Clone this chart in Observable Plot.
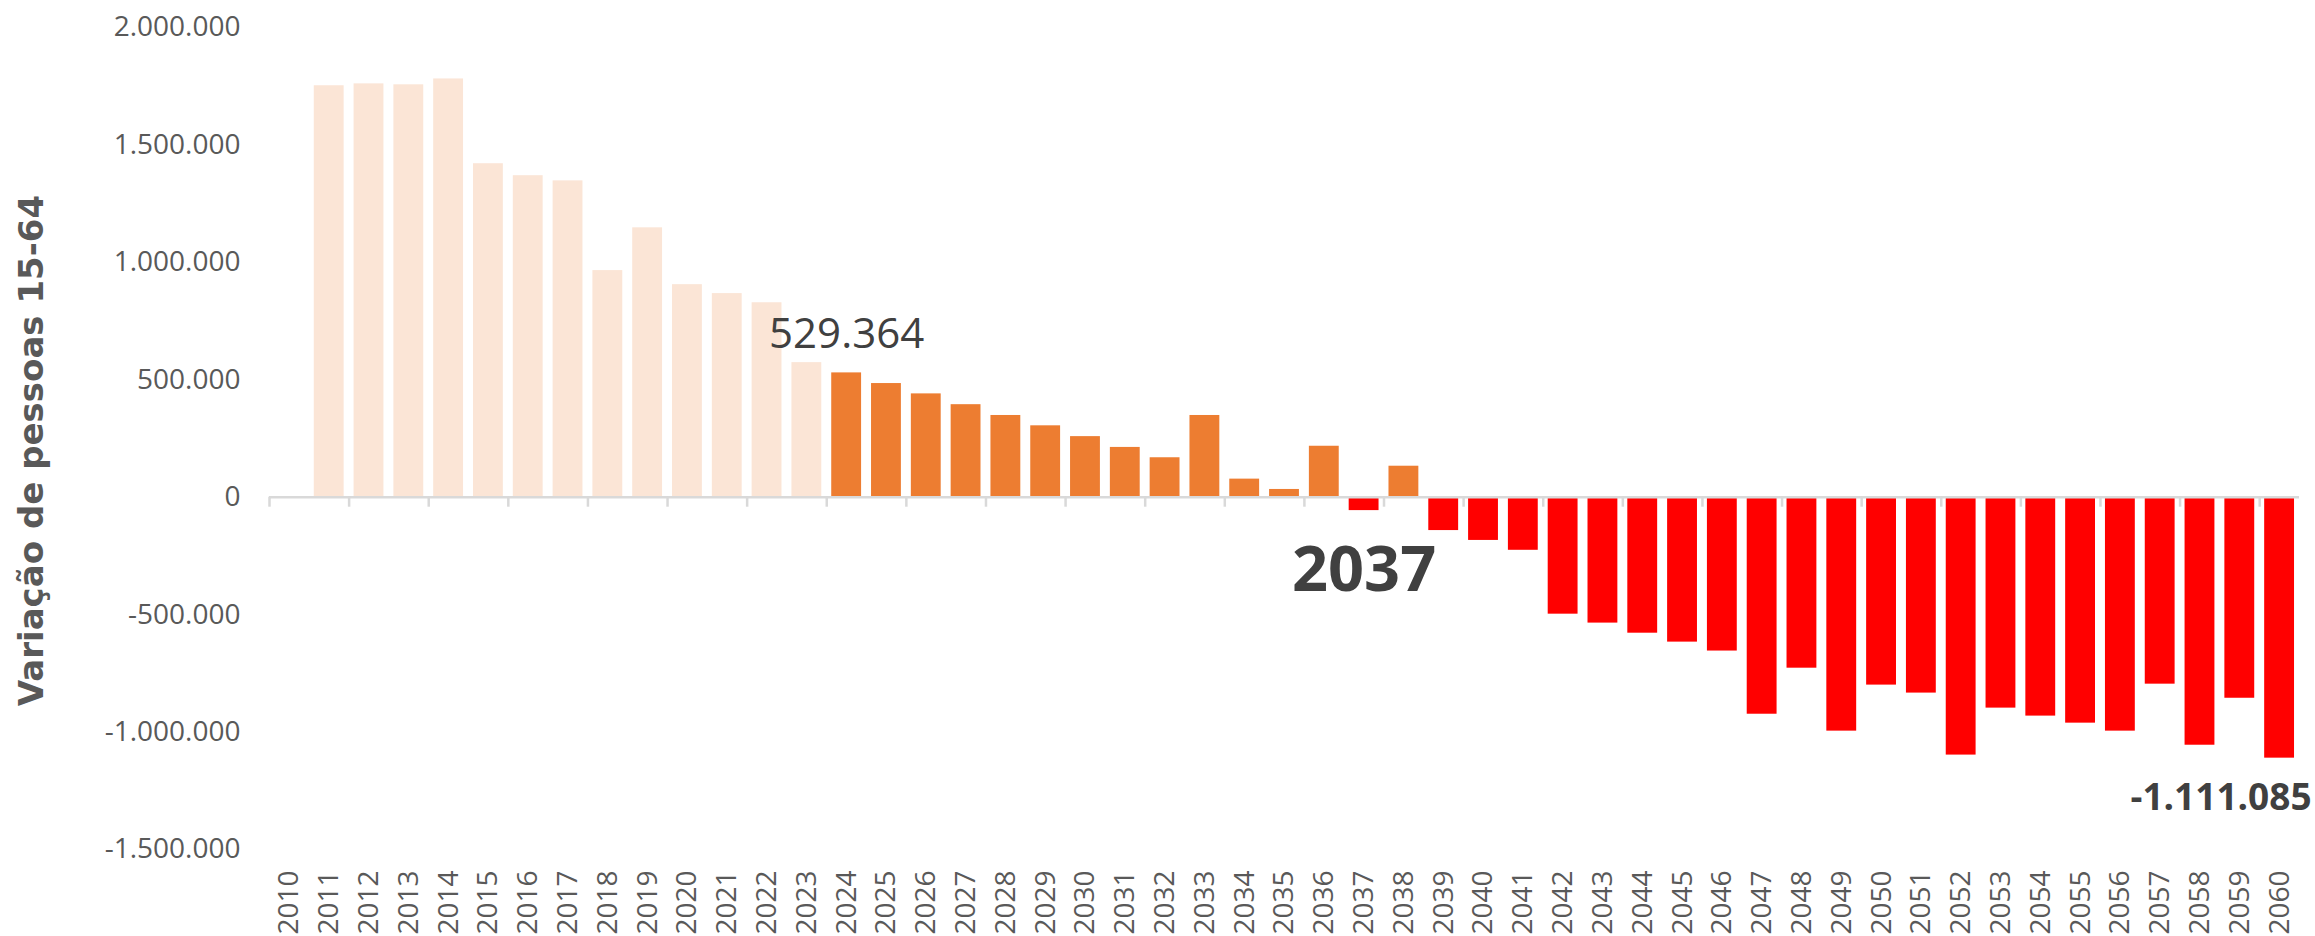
<!DOCTYPE html>
<html>
<head>
<meta charset="utf-8">
<script src="https://cdn.jsdelivr.net/npm/d3@7"></script>
<script src="https://cdn.jsdelivr.net/npm/@observablehq/plot@0.6"></script>
<style>
  html, body { margin: 0; padding: 0; background: #ffffff; overflow: hidden; }
</style>
</head>
<body>
<div id="chart"></div>
<script>
// ---- data ----
const years = [2010, 2011, 2012, 2013, 2014, 2015, 2016, 2017, 2018, 2019,
  2020, 2021, 2022, 2023, 2024, 2025, 2026, 2027, 2028, 2029,
  2030, 2031, 2032, 2033, 2034, 2035, 2036, 2037, 2038, 2039,
  2040, 2041, 2042, 2043, 2044, 2045, 2046, 2047, 2048, 2049,
  2050, 2051, 2052, 2053, 2054, 2055, 2056, 2057, 2058, 2059, 2060];

const values = [null, 1752000, 1760000, 1756000, 1781000, 1420000, 1369000, 1347000, 965000, 1147000,
  905000, 867000, 828000, 573000, 529364, 484000, 440000, 394000, 348000, 304000,
  258000, 212000, 168000, 348000, 77000, 33000, 217000, -57000, 132000, -142000,
  -184000, -226000, -498000, -536000, -579000, -617000, -655000, -924000, -728000, -996000,
  -800000, -834000, -1098000, -898000, -932000, -962000, -996000, -796000, -1056000, -856000, -1111085];

const yTicks = [-1500000, -1000000, -500000, 0, 500000, 1000000, 1500000, 2000000];
const firstProjectionYear = 2024;
const yTitle = "Variação de pessoas 15-64";
const highlightValueYear = 2024;
const crossingYear = 2037;
const lastYear = 2060;

// ---- build table ----
const data = years.map((year, i) => ({
  year,
  value: values[i],
  period: year < firstProjectionYear ? "hist" : (values[i] >= 0 ? "pos" : "neg")
}));

const fmt = d3.formatLocale({decimal: ",", thousands: ".", grouping: [3], currency: ["", ""], minus: "-"}).format(",d");

const W = 2315, H = 936;
const mL = 269, mR = 16, mT = 27, mB = 87;
const step = (W - mL - mR) / years.length;
const yDomain = [-1500000, 2000000];
const tickLen = 10 * (yDomain[1] - yDomain[0]) / (H - mT - mB);
const tickYears = years.filter(y => y % 2 === 0);

const rowOf = y => data.filter(d => d.year === y);

const chart = Plot.plot({
  width: W,
  height: H,
  marginLeft: mL,
  marginRight: mR,
  marginTop: mT,
  marginBottom: mB,
  style: {fontFamily: "'Open Sans', sans-serif", background: "#ffffff", overflow: "visible"},
  x: {type: "band", domain: years, paddingInner: 0.25, paddingOuter: 0.125},
  y: {domain: yDomain},
  color: {domain: ["hist", "pos", "neg"], range: ["#FBE5D6", "#ED7D31", "#FF0000"]},
  marks: [
    Plot.barY(data.filter(d => d.value != null), {x: "year", y: "value", fill: "period"}),
    Plot.ruleY([0], {stroke: "#D9D9D9", strokeWidth: 2.5}),
    Plot.ruleX(tickYears, {x: d => d, y1: 0, y2: -tickLen, dx: -step / 2, stroke: "#D9D9D9", strokeWidth: 2.5}),
    Plot.axisY({ticks: yTicks, tickSize: 0, tickPadding: 29, tickFormat: fmt, fontSize: 28, color: "#595959", label: null}),
    Plot.axisX({tickSize: 0, tickPadding: 21, tickRotate: -90, fontSize: 28, color: "#595959", label: null, tickFormat: d => String(d)}),
    Plot.text([yTitle], {frameAnchor: "left", textAnchor: "middle", dx: -237, dy: 12, rotate: -90, text: d => d,
      fontFamily: "'DejaVu Sans', sans-serif", fontWeight: "bold", fontSize: 34, fill: "#595959"}),
    Plot.text(rowOf(highlightValueYear), {x: "year", y: "value", text: d => fmt(d.value), dy: -38,
      fontSize: 42, fill: "#404040"}),
    Plot.text(rowOf(crossingYear), {x: "year", y: "value", text: d => String(d.year), dy: 60,
      fontSize: 63, fontWeight: "bold", fill: "#404040"}),
    Plot.text(rowOf(lastYear), {x: "year", y: "value", text: d => fmt(d.value), dy: 40, dx: 32,
      textAnchor: "end", fontSize: 37, fontWeight: "bold", fill: "#404040"})
  ]
});

document.getElementById("chart").appendChild(chart);
</script>
</body>
</html>
